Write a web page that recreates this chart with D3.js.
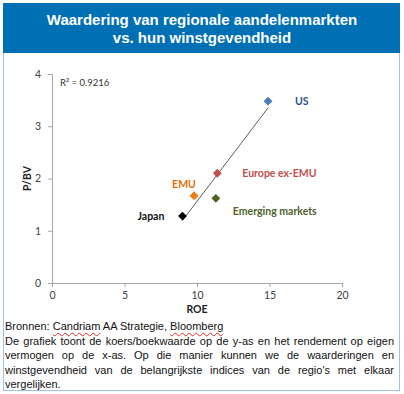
<!DOCTYPE html>
<html>
<head>
<meta charset="utf-8">
<script src="https://cdn.jsdelivr.net/npm/d3@7"></script>
<style>
  body { margin: 0; background: #fff; }
  #frame { position: absolute; left: 3px; top: 3px; width: 395px; height: 387px; border: 1px solid #9DC3E6; border-top: none; }
  #note { position: absolute; left: 5px; top: 319px; width: 389px; font-family: "Liberation Sans", Arial, sans-serif; font-size: 11px; line-height: 14.6px; color: #111; }
  #note div { text-align: justify; text-align-last: justify; white-space: nowrap; }
  #note div.last { text-align-last: left; }
  .sp { text-decoration: underline wavy #e03030; text-decoration-thickness: 1px; text-underline-offset: 2px; }
</style>
</head>
<body>
<div id="frame"></div>
<div id="graph"></div>
<div id="note">
  <div style="text-align-last:left">Bronnen: <span class="sp">Candriam</span> AA Strategie, <span class="sp">Bloomberg</span></div>
  <div style="white-space:normal">De grafiek toont de koers/boekwaarde op de y-as en het rendement op eigen</div>
  <div style="white-space:normal">vermogen op de x-as. Op die manier kunnen we de waarderingen en</div>
  <div style="white-space:normal">winstgevendheid van de belangrijkste indices van de regio's met elkaar</div>
  <div class="last">vergelijken.</div>
</div>
<script>
const titleLines = ["Waardering van regionale aandelenmarkten", "vs. hun winstgevendheid"];
const regions = ["US", "Europe ex-EMU", "EMU", "Emerging markets", "Japan"];
const roe = [14.9, 11.4, 9.8, 11.3, 9.0];
const pbv = [3.48, 2.1, 1.67, 1.62, 1.28];
const markerColors = ["#4A7EBB", "#C0504D", "#F07A14", "#4F6228", "#000000"];
const labelColors = ["#1F4E8C", "#C0504D", "#E46C0A", "#4F6228", "#111111"];
const xTicks = [0, 5, 10, 15, 20];
const yTicks = [0, 1, 2, 3, 4];
const rSquared = "0.9216";

const fullwidth = 404;
const fullheight = 394;

const svg = d3.select("#graph").append("svg")
    .attr("width", fullwidth)
    .attr("height", fullheight)
    .style("position", "absolute")
    .style("left", 0).style("top", 0);

// title banner
svg.append("rect")
    .attr("x", 3).attr("y", 3)
    .attr("width", 397).attr("height", 50)
    .attr("fill", "#0070B4");

svg.selectAll("text.title")
    .data(titleLines)
    .enter().append("text")
    .attr("class", "title")
    .attr("x", 202)
    .attr("y", (d, i) => 25 + i * 18)
    .attr("text-anchor", "middle")
    .attr("fill", "#fff")
    .style("font-family", "Liberation Sans, Arial, sans-serif")
    .style("font-weight", "bold")
    .style("font-size", "15px")
    .text(d => d);

const x = d3.scaleLinear().domain([0, 20]).range([52, 342]);
const y = d3.scaleLinear().domain([0, 4]).range([283, 74]);

const tickFont = "Lato, 'Open Sans', sans-serif";

// axes
const xAxis = svg.append("g")
    .attr("transform", "translate(0," + y(0) + ")")
    .call(d3.axisBottom(x).tickValues(xTicks).tickFormat(d3.format("d")).tickSize(4).tickPadding(5));
const yAxis = svg.append("g")
    .attr("transform", "translate(" + x(0) + ",0)")
    .call(d3.axisLeft(y).tickValues(yTicks).tickFormat(d3.format("d")).tickSize(4).tickPadding(7));

[xAxis, yAxis].forEach(g => {
    g.select(".domain").attr("stroke", "#A6A6A6");
    g.selectAll(".tick line").attr("stroke", "#A6A6A6");
    g.selectAll(".tick text")
        .attr("fill", "#404040")
        .style("font-family", tickFont)
        .style("font-size", "10.5px");
});

// axis titles
svg.append("text")
    .attr("x", x(10))
    .attr("y", 313)
    .attr("text-anchor", "middle")
    .attr("fill", "#222")
    .style("font-family", tickFont)
    .style("font-weight", "bold")
    .style("font-size", "10.5px")
    .text("ROE");

svg.append("text")
    .attr("transform", "translate(31," + y(2) + ") rotate(-90)")
    .attr("text-anchor", "middle")
    .attr("fill", "#222")
    .style("font-family", tickFont)
    .style("font-weight", "bold")
    .style("font-size", "10.5px")
    .text("P/BV");

// linear trendline, least squares
const mx = d3.mean(roe), my = d3.mean(pbv);
const slope = d3.sum(roe.map((v, i) => (v - mx) * (pbv[i] - my))) / d3.sum(roe.map(v => (v - mx) * (v - mx)));
const icpt = my - slope * mx;
const [x0, x1] = d3.extent(roe);
svg.append("line")
    .attr("x1", x(x0)).attr("y1", y(icpt + slope * x0))
    .attr("x2", x(x1)).attr("y2", y(icpt + slope * x1))
    .attr("stroke", "#333")
    .attr("stroke-width", 0.8);

svg.append("text")
    .attr("x", 60).attr("y", 86)
    .attr("fill", "#333")
    .style("font-family", tickFont)
    .style("font-size", "9.5px")
    .text("R² = " + rSquared);

// diamond markers
const diamond = d3.symbol().type(d3.symbolDiamond2).size(50);
svg.selectAll("path.pt")
    .data(regions)
    .enter().append("path")
    .attr("class", "pt")
    .attr("d", diamond)
    .attr("transform", (d, i) => "translate(" + x(roe[i]) + "," + y(pbv[i]) + ")")
    .attr("fill", (d, i) => markerColors[i]);

// labels beside the points
const labelDx = [27, 25, -22, 17, -45];
const labelDy = [4, 4, -8, 17, 4];
svg.selectAll("text.lbl")
    .data(regions)
    .enter().append("text")
    .attr("class", "lbl")
    .attr("x", (d, i) => x(roe[i]) + labelDx[i])
    .attr("y", (d, i) => y(pbv[i]) + labelDy[i])
    .attr("fill", (d, i) => labelColors[i])
    .style("font-family", tickFont)
    .style("font-weight", "bold")
    .style("font-size", "10.5px")
    .text(d => d);
</script>
</body>
</html>
